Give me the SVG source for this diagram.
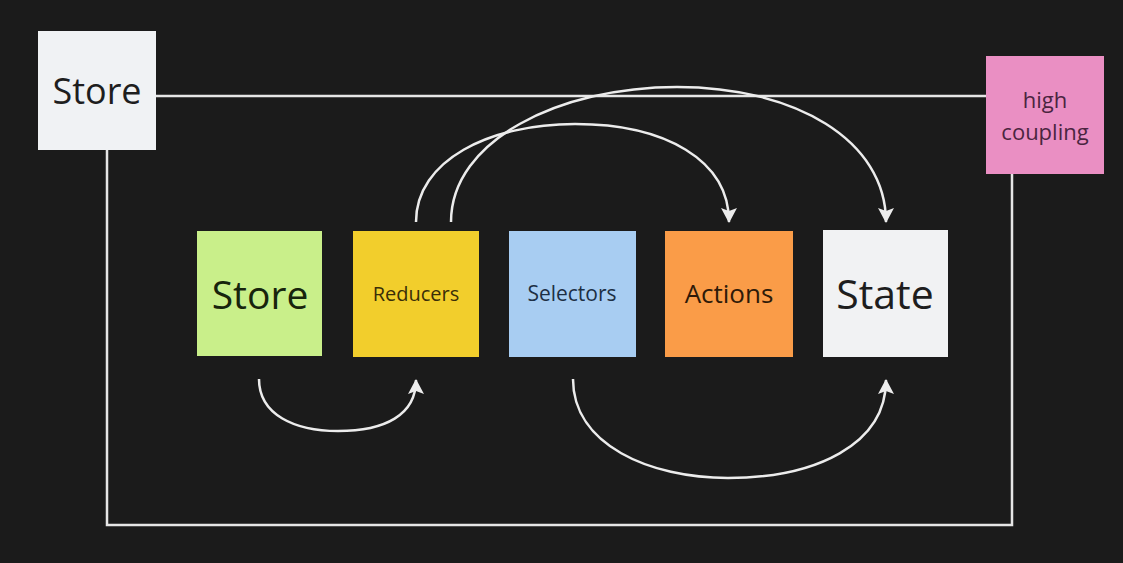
<svg xmlns="http://www.w3.org/2000/svg" width="1123" height="563" viewBox="0 0 1123 563">
<style>
.lbl{font-family:"Open Sans","Noto Sans",sans-serif;text-anchor:middle;dominant-baseline:central}
.con{fill:none;stroke:#ececec;stroke-width:2.5}
.frame{fill:none;stroke:#e6e6e6;stroke-width:2.5}
</style>
<defs>
<marker id="ah" markerUnits="userSpaceOnUse" markerWidth="20" markerHeight="20" viewBox="0 0 20 20" refX="16" refY="10" orient="auto">
<path d="M2,2 L17,10 L2,18 L5,10 Z" fill="#ececec"/>
</marker>
</defs>
<rect width="1123" height="563" fill="#1b1b1b"/>
<g id="connectors">
<path class="frame" d="M156,96 H986 M107,150 V525 H1012 V174"/>
<path class="con" d="M416,222 C416,160 490,124 575,124 C665,124 729,160 729,222" marker-end="url(#ah)"/>
<path class="con" d="M451,222 C451,140 560,87 677,87 C795,87 886,140 886,222" marker-end="url(#ah)"/>
<path class="con" d="M259,379 C259,415 295,431 338,431 C385,431 416,415 416,380" marker-end="url(#ah)"/>
<path class="con" d="M573,379 C573,445 650,478 728,478 C815,478 886,445 886,380" marker-end="url(#ah)"/>
</g>
<g id="store-top">
<rect x="38" y="31" width="118" height="119" fill="#f0f2f4"/>
<text class="lbl" x="97" y="90" font-size="36" fill="#1e1e1e">Store</text>
</g>
<g id="high-coupling">
<rect x="986" y="56" width="118" height="118" fill="#ea8fc3"/>
<text class="lbl" x="1045" y="99" font-size="22" fill="#4a2540">high</text>
<text class="lbl" x="1045" y="131" font-size="22" fill="#4a2540">coupling</text>
</g>
<g id="store">
<rect x="197" y="231" width="125" height="125" fill="#c9ef8a"/>
<text class="lbl" x="260" y="293" font-size="39" fill="#17240c">Store</text>
</g>
<g id="reducers">
<rect x="353" y="231" width="126" height="126" fill="#f2ce2c"/>
<text class="lbl" x="416" y="293" font-size="20" fill="#3a2e08">Reducers</text>
</g>
<g id="selectors">
<rect x="509" y="231" width="127" height="126" fill="#a8cdf2"/>
<text class="lbl" x="572" y="293" font-size="21" fill="#1d2f44">Selectors</text>
</g>
<g id="actions">
<rect x="665" y="231" width="128" height="126" fill="#fa9c48"/>
<text class="lbl" x="729" y="293" font-size="26" fill="#2e1a08">Actions</text>
</g>
<g id="state">
<rect x="823" y="230" width="125" height="127" fill="#f1f2f3"/>
<text class="lbl" x="885" y="293" font-size="41" fill="#1e1e1e">State</text>
</g>
</svg>
